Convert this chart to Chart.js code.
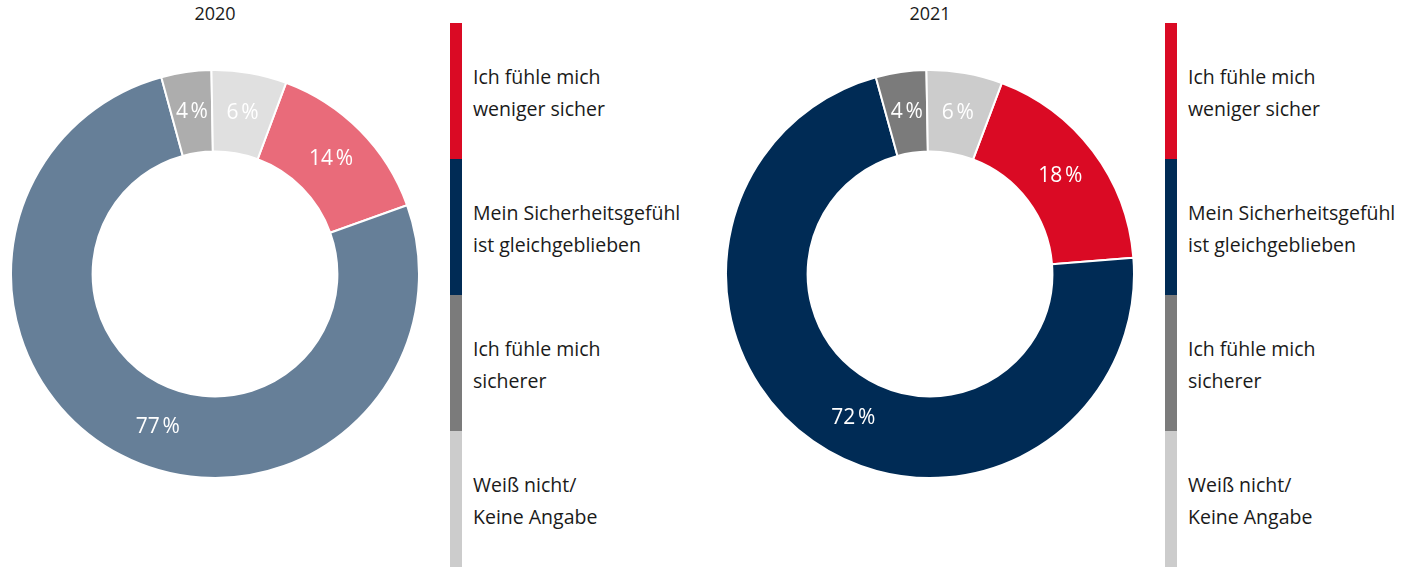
<!DOCTYPE html>
<html lang="de">
<head>
    <meta charset="UTF-8">
    <title>Sicherheitsgefühl 2020 / 2021</title>
    <script src="https://cdn.jsdelivr.net/npm/chart.js"></script>
    <style>
        body { margin: 0; width: 1412px; height: 567px; position: relative; background: #fff; font-family: "Open Sans", sans-serif; color: #1a1a1a; overflow: hidden; }
        .title { position: absolute; top: 1px; width: 200px; text-align: center; font-size: 18px; }
        .wrap { position: absolute; top: 69px; width: 410px; height: 410px; }
        .legend { position: absolute; top: 23px; width: 260px; }
        .item { position: relative; height: 136px; padding-left: 23px; padding-top: 4px; box-sizing: border-box; display: flex; align-items: center; font-size: 19.5px; line-height: 32px; }
        .item .bar { position: absolute; left: 0; top: 0; bottom: 0; width: 12px; }
    </style>
</head>
<body>
    <div class="title" style="left:115px">2020</div>
    <div class="title" style="left:830px">2021</div>
    <div class="wrap" style="left:10px"><canvas id="c2020"></canvas></div>
    <div class="wrap" style="left:725px"><canvas id="c2021"></canvas></div>
    <div class="legend" id="leg1" style="left:450px"></div>
    <div class="legend" id="leg2" style="left:1165px"></div>

    <script>
        const categories = [
            ['Ich fühle mich', 'weniger sicher'],
            ['Mein Sicherheitsgefühl', 'ist gleichgeblieben'],
            ['Ich fühle mich', 'sicherer'],
            ['Weiß nicht/', 'Keine Angabe']
        ];
        const values2020 = [14, 77, 4, 6];
        const values2021 = [18, 72, 4, 6];
        const colors2020 = ['#e96b7a', '#667f98', '#adadad', '#e0e0e0'];
        const colors2021 = ['#da0a24', '#002b55', '#7b7b7b', '#cccccc'];

        // percent labels in the middle of each ring segment
        const sliceLabels = {
            id: 'sliceLabels',
            afterDatasetsDraw(chart) {
                const ctx = chart.ctx;
                const vals = chart.data.datasets[0].data;
                ctx.save();
                ctx.fillStyle = '#ffffff';
                ctx.font = '21px "Open Sans", sans-serif';
                ctx.textAlign = 'center';
                ctx.textBaseline = 'middle';
                chart.getDatasetMeta(0).data.forEach((arc, i) => {
                    let a = (arc.startAngle + arc.endAngle) / 2;
                    // big slice: label sits a bit before the middle
                    if (arc.endAngle - arc.startAngle > Math.PI) a -= 7 * Math.PI / 180;
                    const r = (arc.innerRadius + arc.outerRadius) / 2;
                    ctx.fillText(vals[i] + '\u202F%', arc.x + Math.cos(a) * r, arc.y + Math.sin(a) * r);
                });
                ctx.restore();
            }
        };

        function makeChart(id, values, colors) {
            const total = values.reduce((a, b) => a + b, 0);
            // last slice (Weiß nicht) starts at 12 o'clock
            const rot = values[values.length - 1] / total * 360 - 1;
            new Chart(document.getElementById(id), {
                type: 'doughnut',
                data: {
                    labels: categories.map(c => c.join(' ')),
                    datasets: [{
                        data: values,
                        backgroundColor: colors,
                        borderColor: '#ffffff',
                        borderWidth: 2
                    }]
                },
                options: {
                    responsive: true,
                    maintainAspectRatio: false,
                    animation: false,
                    cutout: '60%',
                    rotation: rot,
                    layout: { padding: 0 },
                    plugins: { legend: { display: false }, tooltip: { enabled: false } }
                },
                plugins: [sliceLabels]
            });
        }

        makeChart('c2020', values2020, colors2020);
        makeChart('c2021', values2021, colors2021);

        // legend blocks, colours of 2021
        ['leg1', 'leg2'].forEach(id => {
            const el = document.getElementById(id);
            categories.forEach((lines, i) => {
                const item = document.createElement('div');
                item.className = 'item';
                item.innerHTML = '<span class="bar" style="background:' + colors2021[i] + '"></span><div>' + lines.join('<br>') + '</div>';
                el.appendChild(item);
            });
        });
    </script>
</body>
</html>
